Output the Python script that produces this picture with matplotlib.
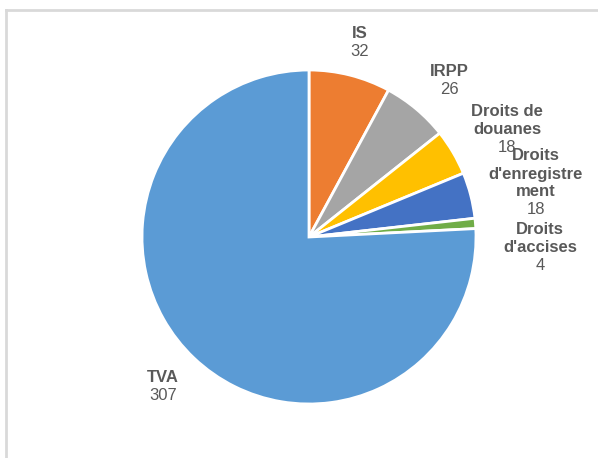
import matplotlib.pyplot as plt
from matplotlib.lines import Line2D

plt.rcParams['font.family'] = ['Liberation Sans', 'DejaVu Sans']

names = ["IS", "IRPP", "Droits de\ndouanes", "Droits\nd'enregistre\nment", "Droits\nd'accises", "TVA"]
values = [32, 26, 18, 18, 4, 307]
colors = ["#ED7D31", "#A5A5A5", "#FFC000", "#4472C4", "#70AD47", "#5B9BD5"]

# label anchor (pixel x centre, pixel y centre of first line)
label_pos = [(360, 34), (449, 71), (507, 111), (536, 156), (540, 230), (163, 378)]

W, H = 598, 458
fig = plt.figure(figsize=(W / 100, H / 100), dpi=100)
ax = fig.add_axes([0, 0, 1, 1])

ax.pie(values, colors=colors, startangle=90, counterclock=False,
       center=(309, H - 237), radius=167,
       wedgeprops=dict(edgecolor="white", linewidth=2))
ax.set_xlim(0, W)
ax.set_ylim(0, H)
ax.set_aspect("auto")
ax.axis("off")

# chart frame
ax.add_line(Line2D([6, 6], [0, H - 10], color="#D9D9D9", lw=2))
ax.add_line(Line2D([6, W], [H - 10, H - 10], color="#D9D9D9", lw=2))

step = 18
for name, val, (x, y) in zip(names, values, label_pos):
    lines = name.split("\n")
    for i, ln in enumerate(lines):
        ax.text(x, H - (y + i * step), ln, ha="center", va="center",
                fontsize=12, fontweight="bold", color="#595959")
    ax.text(x, H - (y + len(lines) * step), str(val), ha="center", va="center",
            fontsize=12, color="#595959")

fig.savefig("out.png", dpi=100)
